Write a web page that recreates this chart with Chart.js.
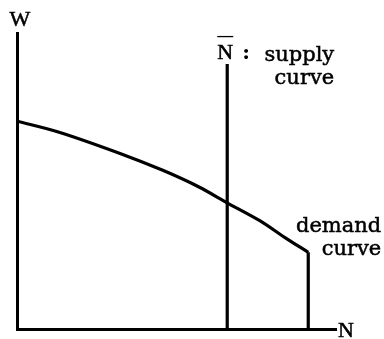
<!DOCTYPE html>
<html>
<head>
<meta charset="utf-8">
<script src="https://cdn.jsdelivr.net/npm/chart.js@4/dist/chart.umd.min.js"></script>
<style>
  body { margin: 0; background: #fff; }
  #wrap { width: 384px; height: 339px; }
</style>
</head>
<body>
<div id="wrap"><canvas id="chart" width="384" height="339"></canvas></div>
<script>
// labour market diagram (0..100 units on both axes)
const demandN = [0, 13.2, 32.1, 45.7, 57.2, 65.6, 76.1, 84.0, 91.3];
const demandW = [70.2, 66.5, 59.4, 53.6, 47.9, 42.8, 36.6, 30.9, 25.9];
const demandDropN = [91.3, 91.3];
const demandDropW = [25.9, 0];
const supplyN = [65.9, 65.9];
const supplyW = [0, 89.5];

const axisLabelY = 'W';
const axisLabelX = 'N';
const supplyLabel = ['supply', 'curve'];
const demandLabel = ['demand', 'curve'];

function toPoints(xs, ys) {
    return xs.map((x, i) => ({ x: x, y: ys[i] }));
}

// slightly heavier text, the scan looks bolder than a plain regular face
function heavyText(ctx, text, x, y) {
    ctx.fillText(text, x, y);
    ctx.strokeText(text, x, y);
}

// Draws the axis names and curve captions next to the marks
const labelPlugin = {
    id: 'labels',
    afterDatasetsDraw(chart) {
        const ctx = chart.ctx;
        const xs = chart.scales.x;
        const ys = chart.scales.y;
        ctx.save();
        ctx.fillStyle = '#000';
        ctx.strokeStyle = '#000';
        ctx.lineWidth = 0.5;
        ctx.textBaseline = 'alphabetic';

        // axis names
        ctx.font = '22px "Liberation Serif"';
        ctx.textAlign = 'center';
        heavyText(ctx, axisLabelY, xs.getPixelForValue(0) + 3, ys.top - 7);
        ctx.textAlign = 'left';
        heavyText(ctx, axisLabelX, xs.right + 2, ys.bottom + 8);

        // N-bar : supply curve
        const sx = xs.getPixelForValue(supplyN[0]);
        const sy = ys.getPixelForValue(supplyW[1]);
        ctx.textAlign = 'center';
        heavyText(ctx, 'N', sx - 2, sy - 5);
        ctx.lineWidth = 1.3;
        ctx.beginPath();
        ctx.moveTo(sx - 10, sy - 27.5);
        ctx.lineTo(sx + 6, sy - 27.5);
        ctx.stroke();
        ctx.lineWidth = 0.5;
        ctx.font = 'bold 21px "DejaVu Serif"';
        ctx.fillText(':', sx + 19, sy - 5);
        ctx.font = '21px "DejaVu Serif"';
        ctx.textAlign = 'right';
        heavyText(ctx, supplyLabel[0], sx + 107, sy - 3);
        heavyText(ctx, supplyLabel[1], sx + 107, sy + 20);

        // demand curve caption
        const dx = xs.getPixelForValue(demandDropN[0]);
        const dy = ys.getPixelForValue(demandDropW[0]);
        heavyText(ctx, demandLabel[0], dx + 73, dy - 20);
        heavyText(ctx, demandLabel[1], dx + 73, dy + 3);
        ctx.restore();
    }
};

const lineStyle = {
    borderColor: '#000',
    borderWidth: 3.2,
    pointRadius: 0,
    showLine: true,
    fill: false
};

new Chart(document.getElementById('chart'), {
    type: 'scatter',
    data: {
        datasets: [
            Object.assign({ label: 'demand', data: toPoints(demandN, demandW), tension: 0.3 }, lineStyle),
            Object.assign({ label: 'demand drop', data: toPoints(demandDropN, demandDropW), tension: 0 }, lineStyle),
            Object.assign({ label: 'supply', data: toPoints(supplyN, supplyW), tension: 0 }, lineStyle)
        ]
    },
    options: {
        responsive: false,
        animation: false,
        layout: { padding: { left: 17, right: 48, top: 33, bottom: 10 } },
        plugins: {
            legend: { display: false },
            tooltip: { enabled: false }
        },
        scales: {
            x: {
                min: 0, max: 100,
                ticks: { display: false },
                grid: { display: false, drawTicks: false },
                border: { display: true, color: '#000', width: 3 }
            },
            y: {
                min: 0, max: 100,
                ticks: { display: false },
                grid: { display: false, drawTicks: false },
                border: { display: true, color: '#000', width: 3 }
            }
        }
    },
    plugins: [labelPlugin]
});
</script>
</body>
</html>
